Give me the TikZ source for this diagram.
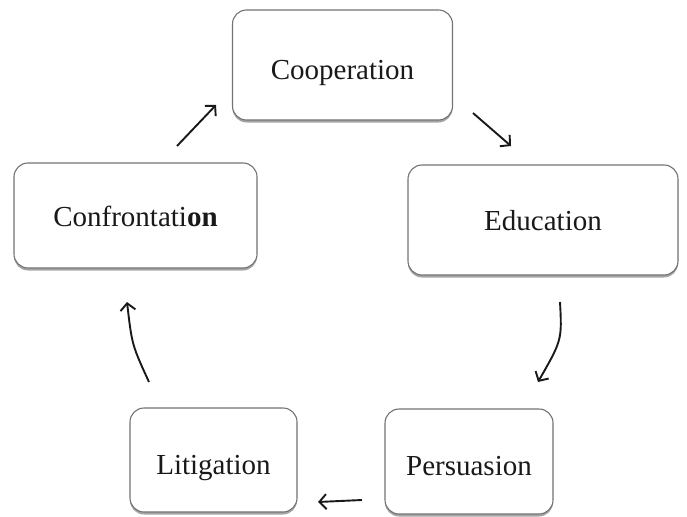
\documentclass[tikz,border=0pt]{standalone}
\usepackage{fontspec}
\setmainfont{Liberation Serif}
\usetikzlibrary{arrows.meta,shadows}
\begin{document}
\begin{tikzpicture}[x=1pt,y=-1pt,
  stage/.style={draw=black!55, line width=1.1pt, rounded corners=14pt, fill=white,
    inner sep=0pt, font=\fontsize{29}{34}\selectfont, text=black!90, text depth=0pt,
    drop shadow={shadow xshift=0pt, shadow yshift=-2.5pt, opacity=0.5, fill=black!70}},
  flow/.style={line width=1.9pt, black!90, -{Straight Barb[length=7pt,width=15pt,line width=1.9pt]}}]
\useasboundingbox (0,0) rectangle (687,516);
\node[stage, text height=30pt, minimum width=220pt, minimum height=110pt] (coop) at (342.5,65) {Cooperation};
\node[stage, text height=21pt, minimum width=243pt, minimum height=105pt] (conf) at (135.5,215.5) {Confrontati\textbf{on}};
\node[stage, text height=20pt, minimum width=270pt, minimum height=110pt] (edu) at (543,220) {Education};
\node[stage, text height=28pt, minimum width=167pt, minimum height=104pt] (lit) at (213.5,460) {Litigation};
\node[stage, text height=28pt, minimum width=168pt, minimum height=105pt] (pers) at (469,461.5) {Persuasion};
\coordinate (a1s) at (177,146); \coordinate (a1e) at (216,105);
\coordinate (a2s) at (473,113); \coordinate (a2e) at (511,146);
\coordinate (a3s) at (560,302); \coordinate (a3e) at (538,382);
\coordinate (a4s) at (362,500); \coordinate (a4e) at (318,502);
\coordinate (a5s) at (149,382); \coordinate (a5e) at (127,302);
\draw[flow] (a1s) -- (a1e);
\draw[flow] (a2s) -- (a2e);
\draw[flow] (a3s) .. controls (562,340) .. (a3e);
\draw[flow] (a4s) -- (a4e);
\draw[flow] (a5s) .. controls (132,345) .. (a5e);
\end{tikzpicture}
\end{document}
